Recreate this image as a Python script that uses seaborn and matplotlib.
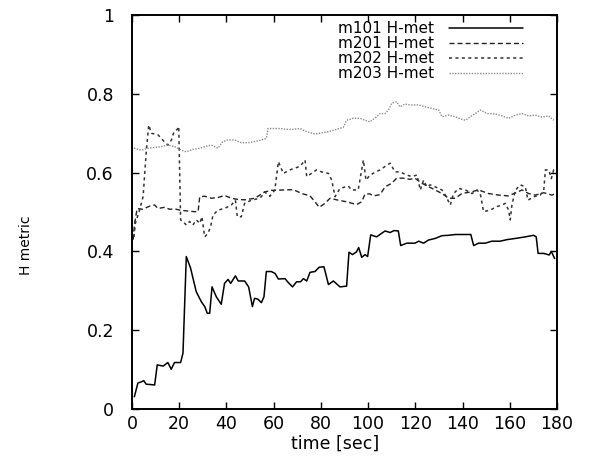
#!/usr/bin/env python3
"""
H metric over time for four runs (gnuplot-style line chart)
"""
import pandas as pd
import matplotlib
matplotlib.use("Agg")
import matplotlib.pyplot as plt
import seaborn as sns

# values
m101_t = [1, 2.5, 4, 5, 6, 8, 9.6, 10.7, 13.2, 15.2,
          16.6, 18, 20.6, 21.6, 23, 24.8, 27.2, 29.4, 30.8, 31.9,
          32.9, 33.9, 35.7, 37.8, 39.2, 40.7, 41.8, 43.8, 45, 47.7,
          49.4, 51, 51.9, 53.3, 54.8, 55.9, 56.9, 59, 60.6, 62,
          64.8, 66.2, 68, 69.7, 71.4, 72.6, 74, 75.4, 77.5, 79.3,
          81.3, 83.2, 85.3, 88.1, 90.9, 91.9, 93.4, 95.1, 96, 97.3,
          98.7, 99.8, 101.1, 103.6, 105.5, 107.2, 109.3, 111, 112.8, 113.8,
          116.4, 119.9, 121.4, 123.5, 125.6, 128.4, 131.3, 134.1, 136.9, 139.7,
          141.9, 143.5, 144.7, 146.8, 149.6, 152.4, 155.9, 158.8, 162.4, 166.6,
          170.1, 171.2, 172.0, 174.4, 176.7, 177.6, 179.0]
m101_v = [0.031, 0.066, 0.069, 0.072, 0.063, 0.062, 0.061, 0.112, 0.109, 0.118,
          0.101, 0.118, 0.118, 0.142, 0.387, 0.358, 0.298, 0.272, 0.260, 0.243,
          0.243, 0.310, 0.285, 0.266, 0.319, 0.329, 0.319, 0.338, 0.325, 0.325,
          0.310, 0.260, 0.281, 0.279, 0.270, 0.285, 0.349, 0.349, 0.344, 0.330,
          0.331, 0.321, 0.310, 0.323, 0.323, 0.331, 0.325, 0.347, 0.349, 0.360,
          0.361, 0.316, 0.325, 0.310, 0.312, 0.398, 0.392, 0.399, 0.410, 0.385,
          0.392, 0.387, 0.442, 0.437, 0.445, 0.452, 0.448, 0.453, 0.452, 0.415,
          0.421, 0.421, 0.426, 0.421, 0.429, 0.433, 0.440, 0.441, 0.443, 0.443,
          0.443, 0.443, 0.415, 0.421, 0.421, 0.426, 0.426, 0.430, 0.433, 0.437,
          0.441, 0.437, 0.395, 0.395, 0.391, 0.400, 0.382]

m201_t = [0.5, 1.1, 2.2, 4.5, 7.5, 9.6, 11, 13.8, 16, 18.1,
          20.2, 23, 26.5, 28, 28.7, 30.8, 33.6, 36.4, 39.2, 42.1,
          44.9, 47.7, 52, 56.2, 59, 64.1, 68.3, 71.9, 75.4, 77.5,
          79.3, 81.7, 83.9, 86.7, 90.9, 95.1, 97.3, 98.7, 100.8, 102.3,
          105, 107.2, 110, 112.1, 114.9, 117.7, 119.8, 122.8, 127.1, 131.3,
          134.1, 136.9, 139.7, 143.5, 146.8, 151, 155.3, 159.5, 161.7, 165.2,
          168, 170.8, 174.4, 177.9, 179.6]
m201_v = [0.43, 0.471, 0.509, 0.507, 0.515, 0.518, 0.509, 0.512, 0.507, 0.508,
          0.505, 0.503, 0.501, 0.501, 0.539, 0.540, 0.535, 0.537, 0.542, 0.535,
          0.532, 0.531, 0.535, 0.551, 0.555, 0.556, 0.557, 0.547, 0.541, 0.526,
          0.512, 0.522, 0.535, 0.531, 0.526, 0.519, 0.526, 0.546, 0.546, 0.541,
          0.544, 0.564, 0.573, 0.586, 0.586, 0.583, 0.586, 0.573, 0.560, 0.547,
          0.535, 0.535, 0.547, 0.551, 0.556, 0.547, 0.543, 0.541, 0.547, 0.556,
          0.547, 0.543, 0.549, 0.543, 0.548]

m202_t = [0.85, 1.4, 3.2, 4.7, 6.1, 7.1, 8.2, 11, 12.4, 13.8,
          15.2, 16.7, 17.8, 19.2, 19.8, 20.6, 21.6, 23, 24.4, 25.8,
          27.3, 28.7, 29.6, 30.8, 32.2, 33.3, 34.3, 36.4, 39.2, 42.1,
          43.8, 44.6, 46.3, 47.7, 50.5, 53.4, 54.8, 56.2, 58.4, 60.5,
          62, 64.1, 66.9, 71.2, 73.3, 74, 78.2, 80.3, 83.2, 84.6,
          86, 88.1, 91.6, 93, 95.8, 98, 99.1, 100.8, 105, 109.3,
          111.4, 113.5, 116.4, 118.5, 120.7, 122.1, 123.5, 124.9, 126.3, 128.4,
          131.3, 132.7, 134.8, 136.2, 138.4, 141.2, 144, 146.1, 147.5, 148.9,
          151.7, 154.6, 156.7, 158.1, 159.5, 160.2, 160.9, 162.4, 164.5, 166.6,
          167.7, 170.1, 172.9, 174.4, 175.1, 176.5, 177.6, 178.6, 179.3]
m202_v = [0.437, 0.471, 0.505, 0.539, 0.657, 0.721, 0.700, 0.696, 0.687, 0.678,
          0.670, 0.683, 0.704, 0.710, 0.717, 0.480, 0.476, 0.467, 0.476, 0.467,
          0.480, 0.471, 0.488, 0.437, 0.446, 0.463, 0.492, 0.505, 0.509, 0.518,
          0.530, 0.488, 0.488, 0.522, 0.530, 0.534, 0.539, 0.551, 0.540, 0.556,
          0.628, 0.598, 0.607, 0.616, 0.632, 0.590, 0.607, 0.602, 0.598, 0.581,
          0.539, 0.560, 0.566, 0.556, 0.556, 0.632, 0.581, 0.594, 0.607, 0.624,
          0.602, 0.602, 0.594, 0.590, 0.594, 0.556, 0.581, 0.564, 0.569, 0.564,
          0.556, 0.543, 0.518, 0.547, 0.560, 0.556, 0.547, 0.556, 0.547, 0.501,
          0.505, 0.514, 0.518, 0.522, 0.505, 0.480, 0.518, 0.556, 0.569, 0.564,
          0.530, 0.539, 0.543, 0.556, 0.607, 0.607, 0.585, 0.607, 0.598]

m203_t = [0.85, 3.95, 6.8, 9.6, 12.4, 15.2, 18.1, 20.9, 23, 25.8,
          28.7, 30.8, 33.6, 36.4, 38.5, 40.7, 43.5, 46.3, 49.1, 52,
          54.8, 56.9, 57.6, 62.7, 65.5, 68.3, 71.2, 74, 77.5, 80.3,
          83.2, 86.7, 89.5, 90.9, 93.7, 96.6, 98.7, 100.8, 103.6, 105,
          107.2, 108.6, 110, 112.1, 113.5, 115.6, 117.7, 121.4, 124.2, 127.1,
          129.9, 131.3, 134.1, 136.9, 138.4, 141.2, 143.3, 145.4, 147.5, 150.4,
          153.9, 156.7, 159.5, 162.4, 165.2, 168, 170.8, 173.7, 176.5, 178.6]
m203_v = [0.662, 0.657, 0.662, 0.664, 0.666, 0.670, 0.666, 0.657, 0.653, 0.659,
          0.662, 0.666, 0.670, 0.662, 0.679, 0.683, 0.683, 0.676, 0.676, 0.679,
          0.683, 0.687, 0.712, 0.712, 0.710, 0.710, 0.712, 0.704, 0.698, 0.701,
          0.704, 0.710, 0.715, 0.733, 0.738, 0.738, 0.733, 0.729, 0.742, 0.750,
          0.750, 0.759, 0.776, 0.780, 0.767, 0.774, 0.772, 0.772, 0.767, 0.763,
          0.759, 0.742, 0.746, 0.742, 0.738, 0.733, 0.742, 0.750, 0.759, 0.750,
          0.749, 0.744, 0.738, 0.746, 0.750, 0.744, 0.746, 0.741, 0.744, 0.733]

series_names = ["m101 H-met", "m201 H-met", "m202 H-met", "m203 H-met"]
x_ticks = [0, 20, 40, 60, 80, 100, 120, 140, 160, 180]
y_ticks = [0, 0.2, 0.4, 0.6, 0.8, 1]
y_tick_labels = ["0", "0.2", "0.4", "0.6", "0.8", "1"]

sns.set_style("ticks")
plt.rcParams['font.family'] = ['DejaVu Sans']
plt.rcParams['text.color'] = 'black'
plt.rcParams['axes.labelcolor'] = 'black'

fig = plt.figure(figsize=(5.94, 4.57), dpi=100)
ax = fig.add_axes([0.2222, 0.105, 0.7155, 0.862])

styles = [
    dict(color="black", linestyle="-", linewidth=1.1),
    dict(color="#222222", linestyle=(0, (3.6, 2.2)), linewidth=1.0),
    dict(color="#333333", linestyle=(0, (2.0, 2.2)), linewidth=1.1),
    dict(color="#8c8c8c", linestyle=(0, (1.0, 1.0)), linewidth=1.0),
]
data = [(m101_t, m101_v), (m201_t, m201_v), (m202_t, m202_v), (m203_t, m203_v)]

for name, (t, v), st in zip(series_names, data, styles):
    df = pd.DataFrame({"time": t, "H": v})
    sns.lineplot(data=df, x="time", y="H", ax=ax, label=name,
                 estimator=None, sort=False, **st)

ax.set_xlim(0, 180)
ax.set_ylim(0, 1)
ax.set_xticks(x_ticks)
ax.set_yticks(y_ticks)
ax.set_yticklabels(y_tick_labels)

for side in ["left", "right", "top", "bottom"]:
    ax.spines[side].set_visible(True)
    ax.spines[side].set_linewidth(1.4)
    ax.spines[side].set_color("black")

ax.tick_params(direction="in", length=5, width=1.0, top=True, right=True,
               labelsize=12.5, colors="black")
ax.tick_params(axis="y", pad=13)
ax.tick_params(axis="x", pad=4)

ax.set_xlabel("time [sec]", fontsize=12.5)
ax.set_ylabel("H metric", fontsize=10)
ax.xaxis.set_label_coords(0.478, -0.066)
ax.yaxis.set_label_coords(-0.233, 0.416)

leg = ax.legend(loc="upper right", bbox_to_anchor=(0.948, 1.015), frameon=False,
                markerfirst=False, fontsize=11, handlelength=4.8,
                handletextpad=1.0, labelspacing=0.0, borderpad=0.3)
for txt in leg.get_texts():
    txt.set_color("black")

fig.savefig("out.png", dpi=100)
plt.close(fig)
